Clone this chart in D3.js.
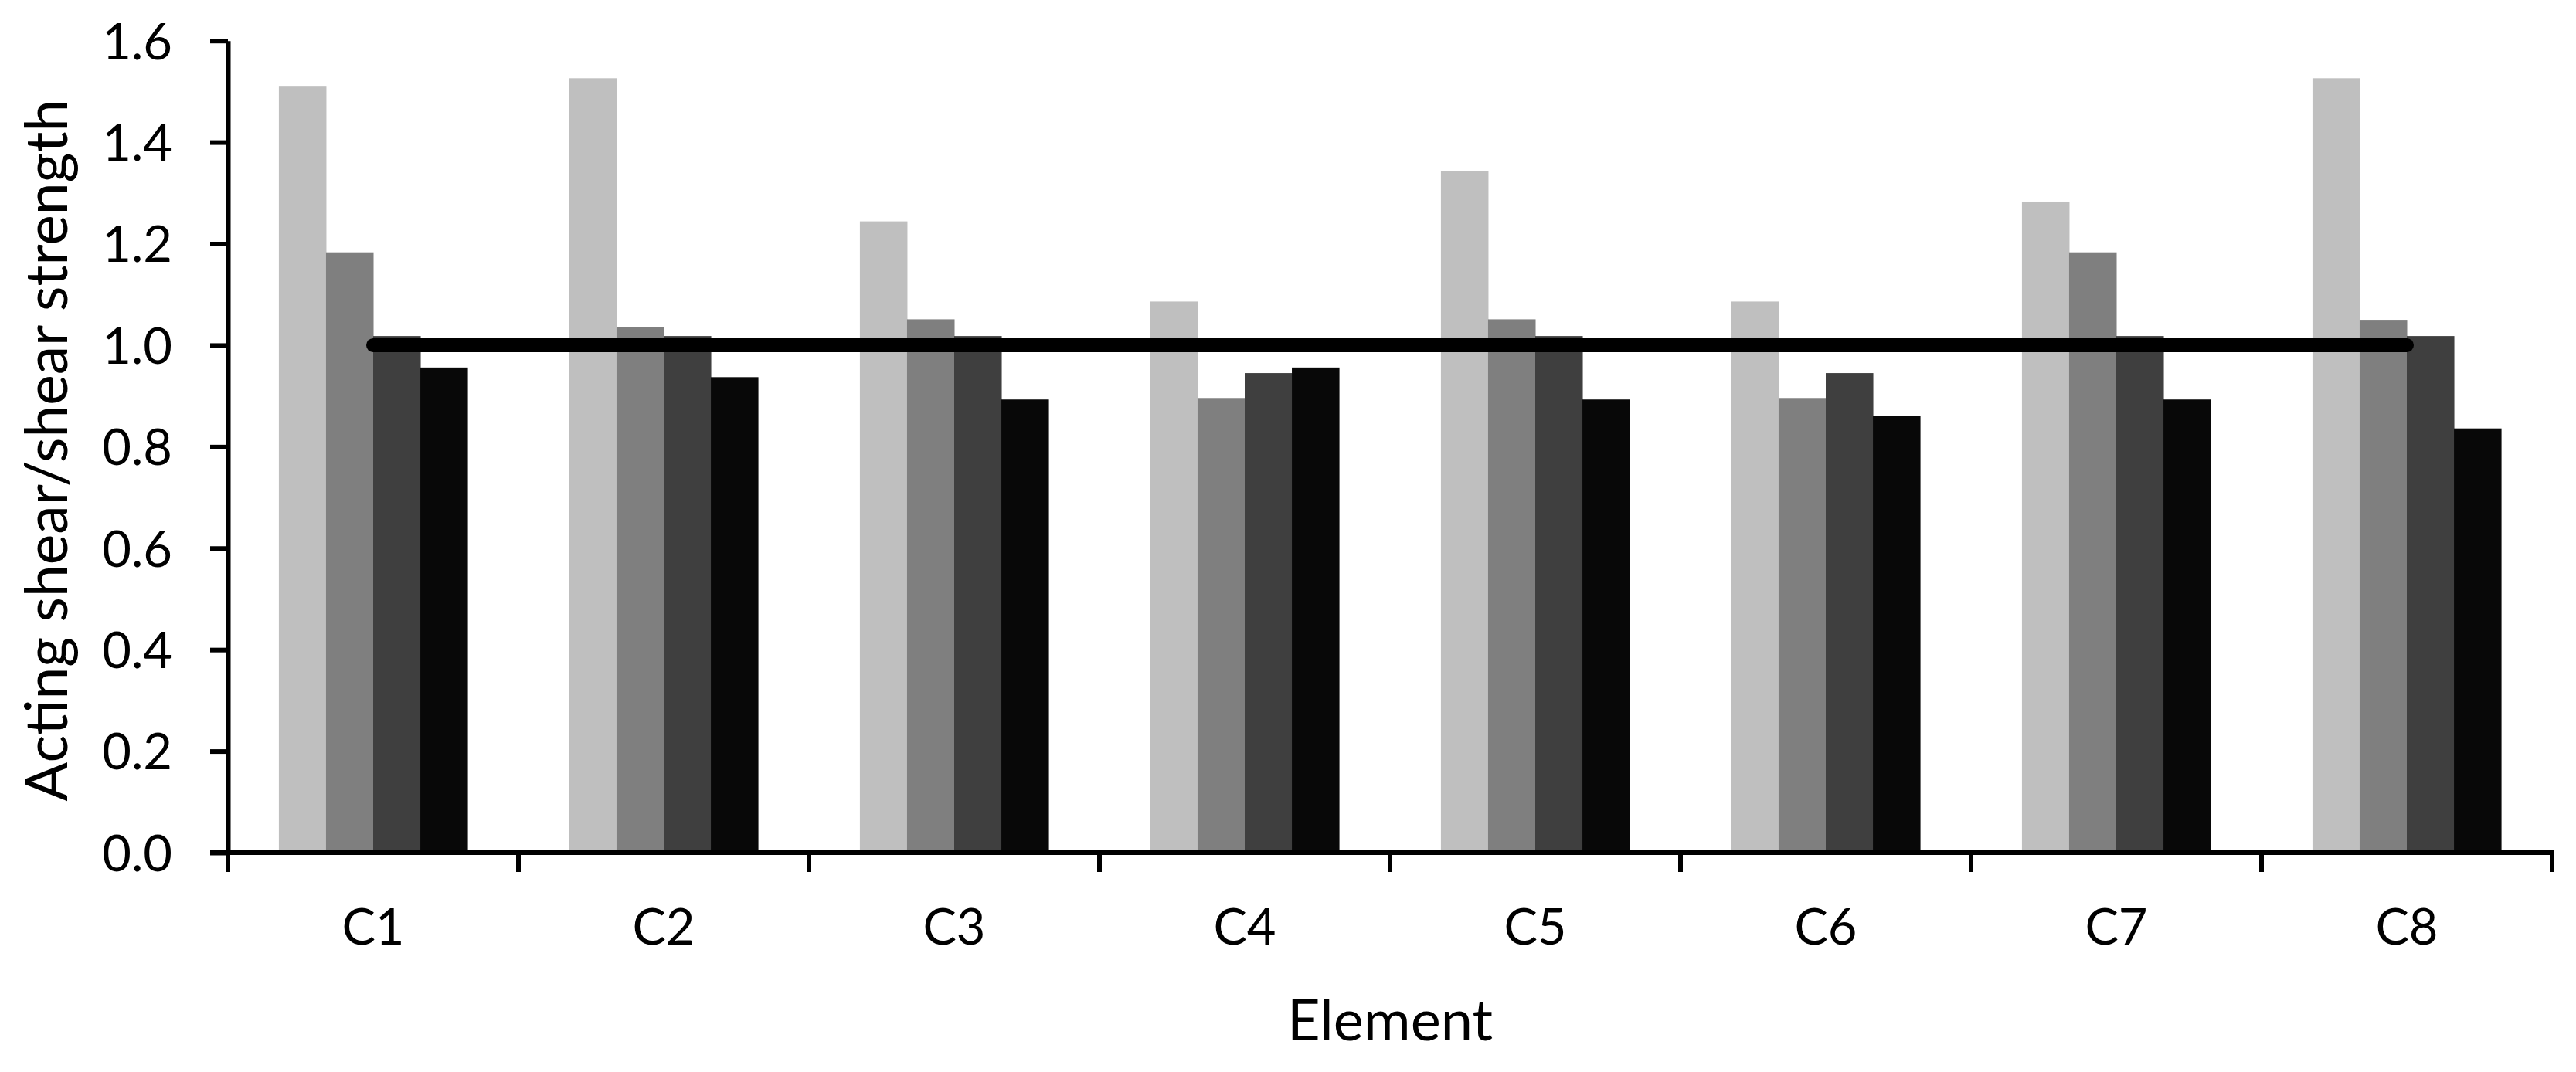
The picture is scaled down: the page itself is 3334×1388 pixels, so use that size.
<!DOCTYPE html>
<html>
<head>
<meta charset="utf-8">
<script src="https://cdn.jsdelivr.net/npm/d3@7"></script>
<style>
  html, body { margin: 0; padding: 0; background: #ffffff; }
  svg { display: block; }
  text { font-family: Lato, "Open Sans", sans-serif; fill: #000; }
</style>
</head>
<body>
<svg id="chart" width="3334" height="1388"></svg>
<script>
// ---- data ----
const categories = ["C1", "C2", "C3", "C4", "C5", "C6", "C7", "C8"];
const seriesNames = ["S1", "S2", "S3", "S4"];
const series1 = [1.511, 1.526, 1.244, 1.086, 1.343, 1.086, 1.283, 1.526];
const series2 = [1.183, 1.036, 1.051, 0.896, 1.051, 0.896, 1.183, 1.050];
const series3 = [1.018, 1.018, 1.018, 0.945, 1.018, 0.945, 1.018, 1.018];
const series4 = [0.956, 0.937, 0.893, 0.956, 0.893, 0.861, 0.893, 0.836];
const limitLine = [1.0, 1.0, 1.0, 1.0, 1.0, 1.0, 1.0, 1.0];
const yTicks = [0.0, 0.2, 0.4, 0.6, 0.8, 1.0, 1.2, 1.4, 1.6];
const seriesColors = ["#BFBFBF", "#7F7F7F", "#3F3F3F", "#080808"];
const xTitle = "Element";
const yTitle = "Acting shear/shear strength";

const allSeries = [series1, series2, series3, series4];

// ---- layout ----
const svg = d3.select("#chart");
const plotLeft = 295, plotRight = 3303, plotTop = 52.7, plotBottom = 1104;

const x = d3.scaleBand().domain(categories).range([plotLeft, plotRight]).paddingInner(0).paddingOuter(0);
const x1 = d3.scaleBand().domain(seriesNames).range([0, x.bandwidth()]).paddingInner(0).paddingOuter(1.08);
const y = d3.scaleLinear().domain([0, 1.6]).range([plotBottom, plotTop]);

// ---- bars ----
const barData = [];
categories.forEach((c, i) => {
  seriesNames.forEach((s, j) => {
    barData.push({ cat: c, ser: s, value: allSeries[j][i], color: seriesColors[j] });
  });
});

svg.append("g").selectAll("rect")
  .data(barData)
  .join("rect")
  .attr("x", d => x(d.cat) + x1(d.ser))
  .attr("width", x1.bandwidth() + 0.5)
  .attr("y", d => y(d.value))
  .attr("height", d => y(0) - y(d.value))
  .attr("fill", d => d.color);

// ---- limit line ----
const line = d3.line()
  .x((d, i) => x(categories[i]) + x.bandwidth() / 2)
  .y(d => y(d));
svg.append("path")
  .datum(limitLine)
  .attr("d", line)
  .attr("fill", "none")
  .attr("stroke", "#000")
  .attr("stroke-width", 18)
  .attr("stroke-linecap", "round")
  .attr("stroke-linejoin", "round");

// ---- y axis ----
const yAxis = d3.axisLeft(y)
  .tickValues(yTicks)
  .tickFormat(d3.format(".1f"))
  .tickSize(23)
  .tickSizeOuter(0)
  .tickPadding(49);
const gy = svg.append("g").attr("transform", `translate(${plotLeft},0)`).call(yAxis);
gy.select(".domain").attr("stroke", "#000").attr("stroke-width", 6);
gy.selectAll(".tick line").attr("stroke", "#000").attr("stroke-width", 6);
gy.selectAll(".tick text").attr("font-size", 65).attr("dy", "0.36em");

// ---- x axis ----
const xAxis = d3.axisBottom(x).tickSize(0).tickSizeOuter(0).tickPadding(0);
const gx = svg.append("g").attr("transform", `translate(0,${plotBottom})`).call(xAxis);
gx.select(".domain").attr("stroke", "#000").attr("stroke-width", 6)
  .attr("d", `M${plotLeft - 23},0H${plotRight + 3}`);
gx.selectAll(".tick text").attr("font-size", 65).attr("y", 119).attr("dy", 0);
// boundary ticks
const boundaries = categories.map(c => x(c)).concat([x.range()[1]]);
gx.append("g").selectAll("line")
  .data(boundaries)
  .join("line")
  .attr("x1", d => d).attr("x2", d => d)
  .attr("y1", 0).attr("y2", 25)
  .attr("stroke", "#000").attr("stroke-width", 6);

// ---- titles ----
svg.append("text")
  .attr("x", (plotLeft + plotRight) / 2)
  .attr("y", 1347)
  .attr("text-anchor", "middle")
  .attr("font-size", 74)
  .text(xTitle);

svg.append("text")
  .attr("transform", `translate(87,583) rotate(-90)`)
  .attr("text-anchor", "middle")
  .attr("font-size", 75)
  .text(yTitle);
</script>
</body>
</html>
